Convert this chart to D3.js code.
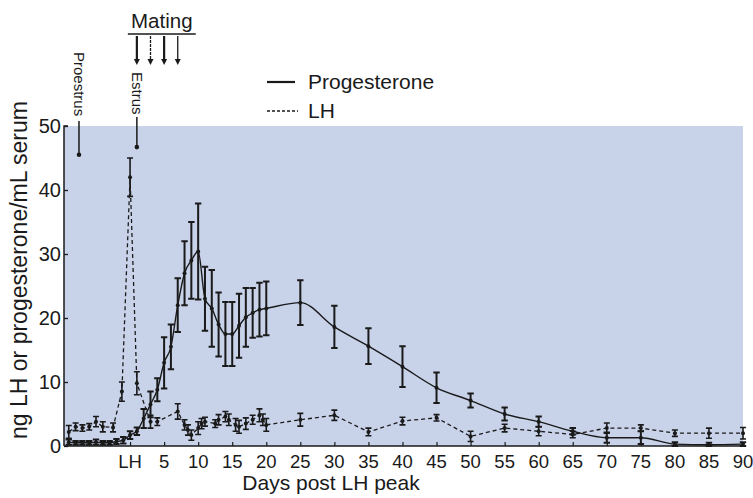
<!DOCTYPE html>
<html>
<head>
<meta charset="utf-8">
<script src="https://cdn.jsdelivr.net/npm/d3@7"></script>
<style>
  html, body { margin: 0; padding: 0; background: #ffffff; }
  svg { display: block; }
  text { font-family: "Liberation Sans", Arial, Helvetica, sans-serif; fill: #1a1a1a; }
</style>
</head>
<body>
<div id="chart"></div>
<script>
// ---------------- data ----------------
const progDays = [-9,-8,-7,-6,-5,-4,-3,-2,-1,0,1,2,3,4,5,6,7,8,9,10,11,12,13,14,15,16,17,18,19,20,25,30,35,40,45,50,55,60,65,70,75,80,85,90];
const progMean = [0.6,0.5,0.5,0.5,0.6,0.5,0.5,0.7,0.9,1.7,2.3,4.3,6.5,8.8,13,15.5,22,27,29,30.4,23,21.5,19,17.5,17.5,18.8,20.1,20.8,21.3,21.5,22.4,18.6,15.6,12.4,9.1,7.1,5.0,3.8,2.3,1.3,1.3,0.3,0.2,0.3];
const progErr  = [0.4,0.3,0.3,0.3,0.4,0.3,0.3,0.4,0.5,0.6,0.6,1.5,2.0,1.8,4,3.5,4.2,5,6,7.5,5,6,5,5,5,5,4.6,3.9,4.2,4.2,3.5,3.3,2.8,3.2,2.4,1.1,1.0,0.8,0.5,0.8,1.0,0.3,0.3,0.3];

const lhDays = [-9,-8,-7,-6,-5,-4,-2.5,-1.2,0,1,3,4,7,8,8.5,9,10,10.5,11,12.5,13,14,14.5,15.5,16,17,18,19,19.5,20,25,30,35,40,45,50,55,60,65,70,75,80,85,90];
const lhMean = [2.2,3.0,2.8,3.0,3.8,3.0,2.9,8.5,42,9.8,3.8,3.8,5.4,3.3,2.5,1.7,2.8,3.5,3.8,3.5,4.1,4.6,4.1,3.3,3.0,3.5,4.1,4.8,4.1,3.3,4.1,4.8,2.2,3.9,4.4,1.5,2.8,2.3,1.8,2.8,2.8,2.0,2.0,2.0];
const lhErr  = [1.0,0.6,0.5,0.5,0.8,0.8,0.7,1.5,3,1.8,1.0,0.6,1.2,0.8,0.8,0.8,1.0,0.8,0.7,0.6,0.8,0.8,0.9,1.0,1.0,0.9,0.7,1.0,0.9,1.0,1.0,0.8,0.6,0.6,0.5,0.8,0.6,0.7,0.5,0.8,0.5,0.5,0.8,0.9];

const xTickValues = [0,5,10,15,20,25,30,35,40,45,50,55,60,65,70,75,80,85,90];
const xTickLabels = ["LH","5","10","15","20","25","30","35","40","45","50","55","60","65","70","75","80","85","90"];
const yTickValues = [0,10,20,30,40,50];

const matingDays = [1,3,5,7];
const stageNames = ["Proestrus","Estrus"];
const stageDays  = [-7.5, 1];
const stageDotValues = [45.5, 46.7];

const seriesNames = ["Progesterone","LH"];
const xTitle = "Days post LH peak";
const yTitle = "ng LH or progesterone/mL serum";

// ---------------- layout ----------------
const W = 753, H = 498;
const svg = d3.select("#chart").append("svg").attr("width", W).attr("height", H);

const x = d3.scaleLinear().domain([-9.7, 90]).range([64, 743]);
const y = d3.scaleLinear().domain([0, 50]).range([446, 126]);
const ink = "#1a1a1a";

// background panel
svg.append("rect")
  .attr("x", x(-9.7)).attr("y", y(50))
  .attr("width", x(90) - x(-9.7)).attr("height", y(0) - y(50))
  .attr("fill", "#c8d3ea");

// axes
const yAxis = d3.axisRight(y).tickValues(yTickValues).tickSize(4).tickFormat("");
const gy = svg.append("g").attr("transform", `translate(${x(-9.7)},0)`).call(yAxis);
gy.select(".domain").attr("d", `M4,${y(50)}H0V${y(0)}`).attr("stroke", ink).attr("stroke-width", 1.5).attr("fill","none");
gy.selectAll(".tick line").attr("stroke", ink).attr("stroke-width", 1.3);

svg.append("g").selectAll("text").data(yTickValues).join("text")
  .attr("x", x(-9.7) - 3).attr("y", d => y(d) + 7)
  .attr("text-anchor", "end").attr("font-size", 20).text(d => d);

const xAxis = d3.axisTop(x).tickValues(xTickValues).tickSize(4).tickFormat("");
const gx = svg.append("g").attr("transform", `translate(0,${y(0)})`).call(xAxis);
gx.select(".domain").attr("d", `M${x(-9.7)},0H${x(90)}`).attr("stroke", ink).attr("stroke-width", 1.5);
gx.selectAll(".tick line").attr("stroke", ink).attr("stroke-width", 1.2);

svg.append("g").selectAll("text").data(xTickValues).join("text")
  .attr("x", d => x(d)).attr("y", y(0) + 22)
  .attr("text-anchor", "middle").attr("font-size", 18.5)
  .text((d, i) => xTickLabels[i]);

svg.append("text").attr("x", 331).attr("y", 490).attr("text-anchor", "middle")
  .attr("font-size", 21).text(xTitle);
svg.append("text").attr("transform", "translate(27,270) rotate(-90)")
  .attr("text-anchor", "middle").attr("font-size", 23).text(yTitle);

// ---------------- series ----------------
const prog = progDays.map((d, i) => ({d, m: progMean[i], e: progErr[i]}));
const lh = lhDays.map((d, i) => ({d, m: lhMean[i], e: lhErr[i]}));

function errorBars(data, width, cap) {
  const g = svg.append("g").attr("stroke", ink).attr("stroke-width", width).attr("fill", "none");
  g.selectAll("path").data(data).join("path")
    .attr("d", p => {
      const cx = x(p.d), y1 = y(Math.min(50, p.m + p.e)), y0 = y(Math.max(0, p.m - p.e));
      return `M${cx},${y1}V${y0}M${cx - cap},${y1}H${cx + cap}M${cx - cap},${y0}H${cx + cap}`;
    });
}

errorBars(lh, 1.6, 3);
errorBars(prog, 2.0, 3.2);

svg.append("path").datum(lh)
  .attr("d", d3.line().x(p => x(p.d)).y(p => y(p.m)))
  .attr("fill", "none").attr("stroke", ink).attr("stroke-width", 1.3)
  .attr("stroke-dasharray", "4,3");

svg.append("path").datum(prog)
  .attr("d", d3.line().curve(d3.curveMonotoneX).x(p => x(p.d)).y(p => y(p.m)))
  .attr("fill", "none").attr("stroke", ink).attr("stroke-width", 1.4);

svg.append("g").selectAll("circle").data(lh).join("circle")
  .attr("cx", p => x(p.d)).attr("cy", p => y(p.m)).attr("r", 2).attr("fill", ink);
svg.append("g").selectAll("circle").data(prog).join("circle")
  .attr("cx", p => x(p.d)).attr("cy", p => y(p.m)).attr("r", 2).attr("fill", ink);

// ---------------- legend ----------------
svg.append("line").attr("x1", 267).attr("x2", 295).attr("y1", 82).attr("y2", 82)
  .attr("stroke", ink).attr("stroke-width", 2.2);
svg.append("text").attr("x", 308).attr("y", 89).attr("font-size", 21).text(seriesNames[0]);
svg.append("line").attr("x1", 267).attr("x2", 298).attr("y1", 111).attr("y2", 111)
  .attr("stroke", ink).attr("stroke-width", 1.5).attr("stroke-dasharray", "3,2");
svg.append("text").attr("x", 308).attr("y", 118).attr("font-size", 21).text(seriesNames[1]);

// ---------------- annotations ----------------
const mx0 = x(matingDays[0]) - 9, mx1 = x(matingDays[matingDays.length - 1]) + 18;
svg.append("text").attr("x", (mx0 + mx1) / 2).attr("y", 28).attr("text-anchor", "middle")
  .attr("font-size", 20.5).text("Mating");
svg.append("line").attr("x1", mx0).attr("x2", mx1).attr("y1", 34).attr("y2", 34)
  .attr("stroke", ink).attr("stroke-width", 1.3);
const arrows = svg.append("g");
arrows.selectAll("line").data(matingDays).join("line")
  .attr("x1", d => x(d)).attr("x2", d => x(d)).attr("y1", 36).attr("y2", 62)
  .attr("stroke", ink).attr("stroke-width", (d, i) => i % 2 === 0 ? 2.2 : 1.3)
  .attr("stroke-dasharray", (d, i) => i === 1 ? "3,1" : null);
arrows.selectAll("path").data(matingDays).join("path")
  .attr("d", d => `M${x(d) - 3},${59}L${x(d) + 3},${59}L${x(d)},${65}Z`).attr("fill", ink);

stageNames.forEach((name, i) => {
  const sx = x(stageDays[i]);
  const top = i === 0 ? 52 : 72;
  svg.append("text").attr("transform", `translate(${sx - 5},${top}) rotate(90)`)
    .attr("font-size", 15).text(name);
  const lineTop = i === 0 ? 121 : 117;
  svg.append("line").attr("x1", sx).attr("x2", sx).attr("y1", lineTop).attr("y2", y(stageDotValues[i]))
    .attr("stroke", ink).attr("stroke-width", 1.5);
  svg.append("circle").attr("cx", sx).attr("cy", y(stageDotValues[i])).attr("r", 2.3).attr("fill", ink);
});
</script>
</body>
</html>
